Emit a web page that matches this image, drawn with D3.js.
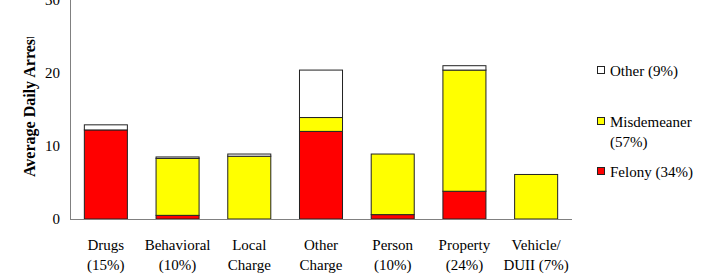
<!DOCTYPE html>
<meta charset="utf-8">
<style>
    body { margin: 0; background: #fff; }
    svg { display: block; }
    text { font-family: "Liberation Serif", "Times New Roman", "DejaVu Serif", serif; fill: #000; }
    .axis path, .axis line { stroke: #808080; }
    .axis text { font-size: 15px; }
</style>

<body>
    <svg width="707" height="278"></svg>
    <script src="https://d3js.org/d3.v7.min.js"></script>
    <script>
        // categories (two-line labels)
        var categories = ["Drugs", "Behavioral", "Local Charge", "Other Charge", "Person", "Property", "Vehicle/DUII"];
        var catLine1 = ["Drugs", "Behavioral", "Local", "Other", "Person", "Property", "Vehicle/"];
        var catLine2 = ["(15%)", "(10%)", "Charge", "Charge", "(10%)", "(24%)", "DUII (7%)"];

        // series values (average daily arrests)
        var felony = [12.2, 0.5, 0, 12.0, 0.6, 3.8, 0];
        var misdemeaner = [0, 7.8, 8.6, 1.9, 8.3, 16.6, 6.1];
        var other = [0.7, 0.2, 0.3, 6.5, 0, 0.6, 0];

        var seriesNames = ["felony", "misdemeaner", "other"];
        var seriesColors = ["#ff0000", "#ffff00", "#ffffff"];
        var legendLabels = [["Other (9%)"], ["Misdemeaner", "(57%)"], ["Felony (34%)"]];
        var yTicks = [0, 10, 20, 30];

        var svg = d3.select("svg"),
            margin = { top: 0, left: 70, bottom: 59, right: 135 },
            width = +svg.attr("width") - margin.left - margin.right,
            height = +svg.attr("height") - margin.top - margin.bottom;

        var table = categories.map(function (c, i) {
            return { cat: c, felony: felony[i], misdemeaner: misdemeaner[i], other: other[i] };
        });

        var x = d3.scaleBand().domain(categories).range([0, width]).paddingInner(0.4).paddingOuter(0.2);
        var y = d3.scaleLinear().domain([0, 30]).range([height, 0]);
        var color = d3.scaleOrdinal().domain(seriesNames).range(seriesColors);

        var g = svg.append("g")
            .attr("transform", "translate(" + margin.left + "," + margin.top + ")");

        var stack = d3.stack().keys(seriesNames)(table);

        g.selectAll(".series")
            .data(stack)
            .enter().append("g")
            .attr("class", "series")
            .attr("fill", function (d) { return color(d.key); })
            .selectAll("rect")
            .data(function (d) { return d.filter(function (p) { return p[1] - p[0] > 0; }); })
            .enter().append("rect")
            .attr("x", function (d) { return x(d.data.cat); })
            .attr("y", function (d) { return y(d[1]); })
            .attr("width", x.bandwidth())
            .attr("height", function (d) { return y(d[0]) - y(d[1]); })
            .attr("stroke", "#222")
            .attr("stroke-width", 1);

        // y axis
        var yAxis = g.append("g")
            .attr("class", "axis")
            .call(d3.axisLeft(y).tickValues(yTicks).tickSize(0).tickPadding(10));
        yAxis.attr("font-family", null);
        yAxis.select(".domain").attr("d", "M0.5," + y(30) + "V" + (height + 0.5));

        // x baseline
        g.append("line")
            .attr("x1", 0).attr("x2", width)
            .attr("y1", height + 0.5).attr("y2", height + 0.5)
            .attr("stroke", "#808080");

        // category labels
        var labels = g.selectAll(".cat")
            .data(categories)
            .enter().append("text")
            .attr("class", "cat")
            .attr("text-anchor", "middle")
            .attr("font-size", 15)
            .attr("transform", function (d) { return "translate(" + (x(d) + x.bandwidth() / 2) + "," + (height + 31) + ")"; });
        labels.append("tspan").attr("x", 0).attr("y", 0).text(function (d, i) { return catLine1[i]; });
        labels.append("tspan").attr("x", 0).attr("y", 20).text(function (d, i) { return catLine2[i]; });

        // y axis title, clipped at the top as in the original
        svg.append("clipPath").attr("id", "titleClip")
            .append("rect").attr("x", 0).attr("y", 37).attr("width", 60).attr("height", 241);
        svg.append("g")
            .attr("clip-path", "url(#titleClip)")
            .append("text")
            .attr("transform", "translate(35,177) rotate(-90)")
            .attr("font-size", 16)
            .attr("font-weight", "bold")
            .text("Average Daily Arrests");

        // legend
        var legendY = [76, 127, 177];
        var legend = svg.selectAll(".legend")
            .data(["other", "misdemeaner", "felony"])
            .enter().append("g")
            .attr("class", "legend")
            .attr("transform", function (d, i) { return "translate(597," + legendY[i] + ")"; });
        legend.append("rect")
            .attr("x", 0.5).attr("y", -9.5)
            .attr("width", 7).attr("height", 7)
            .attr("fill", function (d) { return color(d); })
            .attr("stroke", "#222");
        legend.each(function (d, i) {
            var t = d3.select(this).append("text").attr("font-size", 15);
            legendLabels[i].forEach(function (line, j) {
                t.append("tspan").attr("x", 13).attr("y", j * 20).text(line);
            });
        });
    </script>
</body>
